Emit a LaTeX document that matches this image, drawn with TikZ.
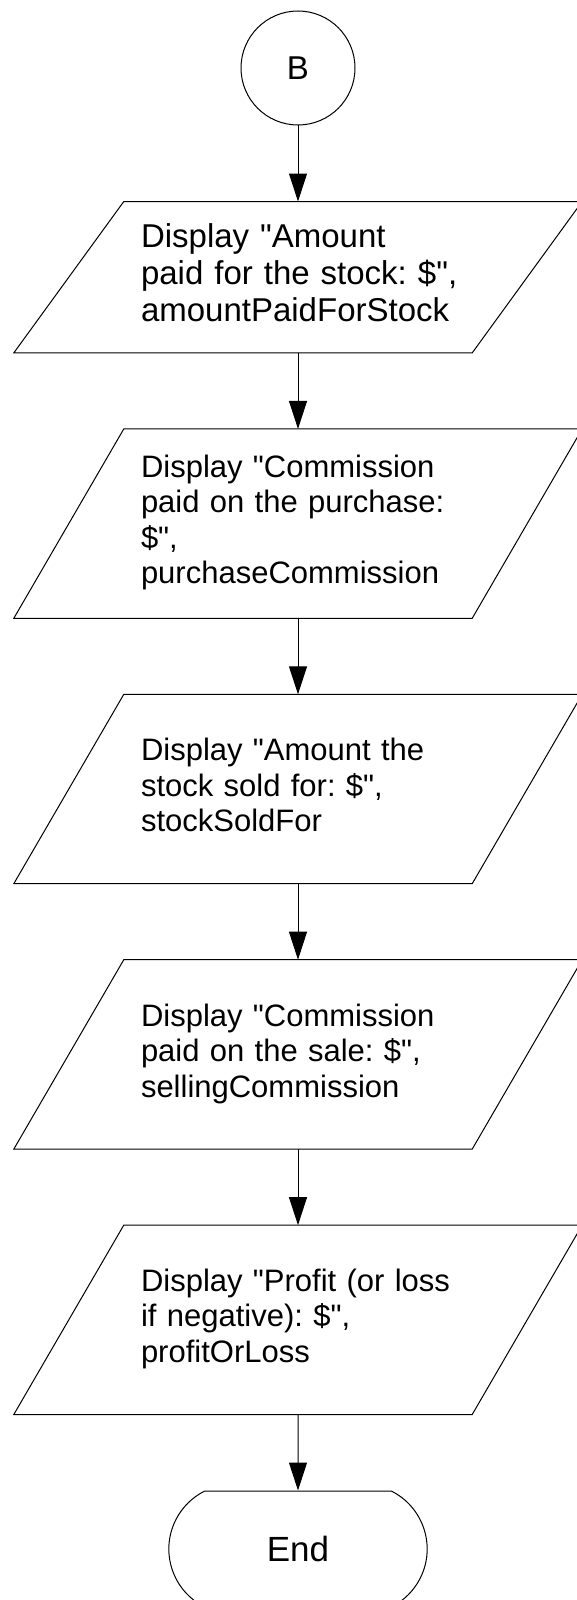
\documentclass[tikz,border=0pt]{standalone}
\usepackage{fontspec}
\setmainfont{Liberation Sans}
\usetikzlibrary{bayesnet}
\usetikzlibrary{positioning,arrows.meta,shapes.misc}

\frenchspacing
\newcommand{\qmark}{\textquotedbl}
\newcommand{\lines}[1]{\begin{tabular}{@{}l@{}}#1\end{tabular}}

\tikzset{
  connector/.style={circle, draw, line width=1pt, minimum size=114pt,
    inner sep=0pt, font=\fontsize{33}{37}\selectfont},
  display/.style={rectangle, minimum width=348pt, minimum height=#1,
    inner xsep=17pt, inner ysep=0pt, text width=314pt, align=left,
    font=\fontsize{31}{35.5}\selectfont,
    append after command={\pgfextra{\draw[line width=1pt]
      ([xshift=-110pt]\tikzlastnode.south west) -- (\tikzlastnode.north west)
      -- ([xshift=110pt]\tikzlastnode.north east) -- (\tikzlastnode.south east)
      -- cycle;}}},
  display/.default=189pt,
  large text/.style={font=\fontsize{33}{37}\selectfont},
  terminal/.style={rounded rectangle, rounded rectangle arc length=127, draw,
    line width=1pt, minimum width=265pt, minimum height=116pt,
    font=\fontsize{35}{40}\selectfont},
  flow/.style={line width=1pt, >={Triangle[length=28pt,width=18pt]}},
  node distance=76pt
}

\begin{document}
\begin{tikzpicture}

  \useasboundingbox (0,0) rectangle (576pt,-1600pt);

  % Define nodes
  \node[connector] at (298pt,-68pt)               (conn_b) {B};
  \node[display=151pt, large text, below=of conn_b] (disp_paid) {\lines{Display \qmark Amount\\paid for the stock: \$\qmark,\\amountPaidForStock}};
  \node[display, below=of disp_paid]              (disp_pcomm) {\lines{Display \qmark Commission\\paid on the purchase:\\\$\qmark,\\purchaseCommission}};
  \node[display, below=of disp_pcomm]             (disp_sold) {\lines{Display \qmark Amount the\\stock sold for: \$\qmark,\\stockSoldFor}};
  \node[display, below=of disp_sold]              (disp_scomm) {\lines{Display \qmark Commission\\paid on the sale: \$\qmark,\\sellingCommission}};
  \node[display, below=of disp_scomm]             (disp_profit) {\lines{Display \qmark Profit (or loss\\if negative): \$\qmark,\\profitOrLoss}};
  \node[terminal, below=of disp_profit]           (term_end) {End};

  % Connect the nodes
  \edge[flow] {conn_b} {disp_paid} ;
  \edge[flow] {disp_paid} {disp_pcomm} ;
  \edge[flow] {disp_pcomm} {disp_sold} ;
  \edge[flow] {disp_sold} {disp_scomm} ;
  \edge[flow] {disp_scomm} {disp_profit} ;
  \edge[flow] {disp_profit} {term_end} ;

\end{tikzpicture}
\end{document}
